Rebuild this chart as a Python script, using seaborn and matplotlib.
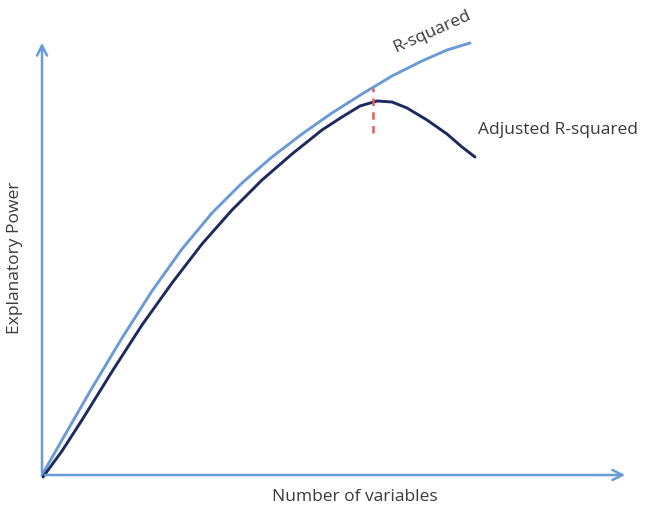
"""Sketch of R-squared vs adjusted R-squared as variables are added."""

import matplotlib.pyplot as plt
import pandas as pd
import seaborn as sns

# values (x = variables, y = explanatory power, arbitrary units)
r2_x = [0, 20, 50, 80, 110, 140, 170, 200, 230, 260, 290, 320, 350, 380, 405, 428]
r2_y = [0, 35, 87, 137, 184, 226, 262, 292, 318, 341, 362, 381, 399, 414, 425, 432]
adj_x = [1, 20, 40, 71, 100, 130, 160, 190, 220, 250, 280, 300, 318, 335,
         350, 365, 385, 405, 420, 433]
adj_y = [-2, 24, 55, 105, 150, 192, 231, 265, 295, 321, 345, 358, 369, 374,
         373, 367, 355, 341, 328, 318]
peak_x = 331
peak_top = 387
peak_bottom = 342

LIGHT = "#6b9bd6"
DARK = "#1c2b5e"
TEXT = "#3a3a3a"


def main() -> None:
    df = pd.concat([
        pd.DataFrame({"x": r2_x, "y": r2_y, "curve": "R-squared"}),
        pd.DataFrame({"x": adj_x, "y": adj_y, "curve": "Adjusted R-squared"}),
    ])

    sns.set_theme(style="white")
    plt.rcParams["font.family"] = ["Open Sans", "DejaVu Sans"]
    fig = plt.figure(figsize=(6.48, 5.08), dpi=100)
    ax = fig.add_axes([0, 0, 1, 1])
    ax.set_xlim(-42, 606)
    ax.set_ylim(-33, 475)
    ax.axis("off")

    # axes drawn as arrows
    arrow = dict(arrowstyle="->", color=LIGHT, lw=1.8, mutation_scale=18)
    ax.annotate("", xy=(0, 435), xytext=(0, 0), arrowprops=arrow)
    ax.annotate("", xy=(586, 0), xytext=(0, 0), arrowprops=arrow)

    sns.lineplot(data=df, x="x", y="y", hue="curve", sort=False, ax=ax,
                 palette={"R-squared": LIGHT, "Adjusted R-squared": DARK},
                 linewidth=2.1, legend=False)
    for line in ax.lines:
        line.set_solid_joinstyle("round")

    ax.plot([peak_x, peak_x], [peak_bottom, peak_top], color="#e85c5c",
            lw=1.8, ls=(0, (3, 2.5)))

    ax.text(390, 443, "R-squared", rotation=24, ha="center", va="center",
            fontsize=12.5, color=TEXT)
    ax.text(436, 345, "Adjusted R-squared", ha="left", va="center",
            fontsize=12.5, color=TEXT)
    ax.text(313, -22, "Number of variables", ha="center", va="center",
            fontsize=12.5, color=TEXT)
    ax.text(-27, 217, "Explanatory Power", rotation=90, ha="center",
            va="center", fontsize=12.5, color=TEXT)

    fig.savefig("out.png", dpi=100)
    plt.close(fig)


if __name__ == "__main__":
    main()
